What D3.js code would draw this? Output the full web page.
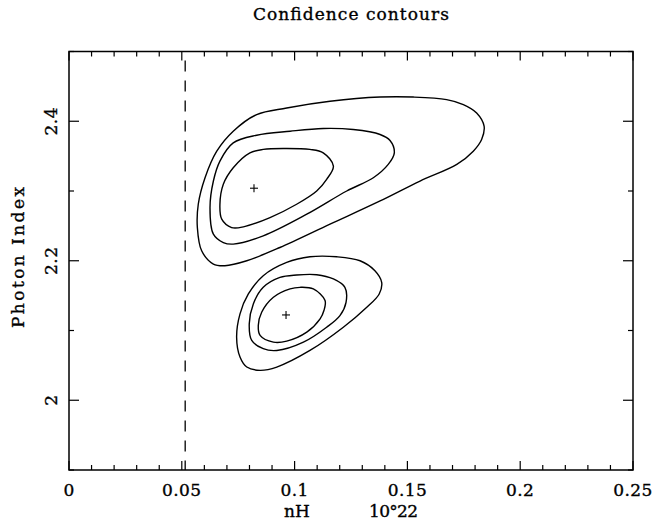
<!DOCTYPE html>
<html>
<head>
<meta charset="utf-8">
<script src="https://cdn.jsdelivr.net/npm/d3@7"></script>
<style>
  body { margin: 0; background: #fff; }
  svg text { font-family: "DejaVu Serif", serif; fill: #000; stroke: #000; stroke-width: 0.35px; }
</style>
</head>
<body>
<svg id="chart" width="654" height="523"></svg>
<script>
// axis ranges and ticks
const xDomain = [0, 0.25];
const yDomain = [1.9, 2.5];
const xTickLabels = [0, 0.05, 0.1, 0.15, 0.2, 0.25];
const yTickLabels = [2, 2.2, 2.4];
const nhLimit = 0.0515;

// best fit points
const bestFits = [[0.082, 2.304], [0.0962, 2.1223]];

// upper group of contours (nH, photon index)
const upperOuter = [[0.0832, 2.4096], [0.0728, 2.3857], [0.0655, 2.3571], [0.0603, 2.319], [0.0573, 2.281],
  [0.0569, 2.2476], [0.0588, 2.2143], [0.064, 2.1953], [0.0691, 2.1929], [0.0788, 2.2], [0.0935, 2.219],
  [0.1157, 2.2524], [0.1379, 2.2857], [0.1556, 2.3143], [0.1719, 2.3381], [0.1792, 2.3571], [0.1829, 2.3739],
  [0.184, 2.3929], [0.1807, 2.4119], [0.1748, 2.4239], [0.1674, 2.431], [0.1526, 2.4347], [0.1379, 2.4347],
  [0.1157, 2.4286], [0.0965, 2.419]];
const upperMiddle = [[0.0728, 2.369], [0.0669, 2.3429], [0.064, 2.3143], [0.0625, 2.2761], [0.064, 2.2381],
  [0.0684, 2.2261], [0.0728, 2.2239], [0.0861, 2.2357], [0.1054, 2.2667], [0.1231, 2.3], [0.1349, 2.319],
  [0.1415, 2.3381], [0.1442, 2.3547], [0.1423, 2.3724], [0.1379, 2.381], [0.126, 2.3881], [0.1127, 2.3896],
  [0.098, 2.3857], [0.0832, 2.38]];
const upperInner = [[0.0802, 2.3547], [0.0728, 2.3333], [0.0684, 2.3096], [0.0669, 2.281], [0.0677, 2.2596],
  [0.0721, 2.2476], [0.0773, 2.2486], [0.0891, 2.2619], [0.1009, 2.281], [0.1098, 2.3], [0.1142, 2.3167],
  [0.1172, 2.3357], [0.1127, 2.3547], [0.1068, 2.3596], [0.095, 2.361], [0.0861, 2.3596]];

// lower group of contours
const lowerOuter = [[0.0965, 2.1976], [0.0861, 2.1786], [0.0795, 2.1524], [0.0758, 2.1239], [0.0743, 2.0904],
  [0.0758, 2.0619], [0.0788, 2.0476], [0.0847, 2.0429], [0.0921, 2.0476], [0.1068, 2.0714], [0.1216, 2.1047],
  [0.132, 2.1333], [0.1375, 2.1524], [0.1386, 2.169], [0.1356, 2.1857], [0.129, 2.2], [0.1187, 2.2057],
  [0.1068, 2.2057]];
const lowerMiddle = [[0.0935, 2.1761], [0.0861, 2.1619], [0.0817, 2.1381], [0.0799, 2.1096], [0.081, 2.0857],
  [0.0861, 2.0739], [0.0921, 2.0714], [0.1039, 2.0833], [0.1142, 2.1047], [0.1201, 2.1214], [0.1228, 2.1404],
  [0.1223, 2.1619], [0.1172, 2.1739], [0.1098, 2.18], [0.1009, 2.1796]];
const lowerInner = [[0.098, 2.1596], [0.0906, 2.1476], [0.0854, 2.1261], [0.0839, 2.1071], [0.0847, 2.0929],
  [0.0906, 2.0833], [0.0965, 2.0847], [0.1054, 2.0976], [0.1113, 2.1167], [0.113, 2.1286], [0.1135, 2.1429],
  [0.1083, 2.1596], [0.1024, 2.1619]];

const contours = [upperOuter, upperMiddle, upperInner, lowerOuter, lowerMiddle, lowerInner];

const svg = d3.select("#chart");
const margin = { left: 69, top: 51.5, right: 21, bottom: 53 };
const width = 654 - margin.left - margin.right;
const height = 523 - margin.top - margin.bottom;

const x = d3.scaleLinear().domain(xDomain).range([0, width]);
const y = d3.scaleLinear().domain(yDomain).range([height, 0]);

const g = svg.append("g").attr("transform", `translate(${margin.left},${margin.top})`);

// frame
g.append("rect")
    .attr("width", width)
    .attr("height", height)
    .attr("fill", "none")
    .attr("stroke", "#000")
    .attr("stroke-width", 1.5);

// ticks on all four sides, pointing in
const xMinor = d3.range(0, 26).map(i => i / 100);
const yMinor = d3.range(19, 26).map(i => i / 10);
const isMajorX = v => Math.abs(v * 20 - Math.round(v * 20)) < 1e-6;
const isMajorY = v => Math.abs(v * 5 - Math.round(v * 5)) < 1e-6;

const tickG = g.append("g").attr("stroke", "#000").attr("stroke-width", 1.2);
xMinor.forEach(v => {
    const len = isMajorX(v) ? 9 : 5;
    tickG.append("line").attr("x1", x(v)).attr("x2", x(v)).attr("y1", height).attr("y2", height - len);
    tickG.append("line").attr("x1", x(v)).attr("x2", x(v)).attr("y1", 0).attr("y2", len);
});
yMinor.forEach(v => {
    const len = isMajorY(v) ? 10 : 5;
    tickG.append("line").attr("y1", y(v)).attr("y2", y(v)).attr("x1", 0).attr("x2", len);
    tickG.append("line").attr("y1", y(v)).attr("y2", y(v)).attr("x1", width).attr("x2", width - len);
});

// tick labels
g.selectAll(".xlab")
    .data(xTickLabels)
    .enter().append("text")
    .attr("class", "xlab")
    .attr("x", d => x(d))
    .attr("y", height + 26)
    .attr("text-anchor", "middle")
    .attr("font-size", 17)
    .attr("letter-spacing", 0.4)
    .text(d => d3.format("")(d));

g.selectAll(".ylab")
    .data(yTickLabels)
    .enter().append("text")
    .attr("class", "ylab")
    .attr("transform", d => `translate(${-12},${y(d)}) rotate(-90)`)
    .attr("text-anchor", "middle")
    .attr("font-size", 17)
    .attr("letter-spacing", 0.4)
    .text(d => d);

// titles
svg.append("text")
    .attr("x", 253)
    .attr("y", 20)
    .attr("font-size", 17)
    .attr("textLength", 196)
    .attr("lengthAdjust", "spacing")
    .text("Confidence contours");

svg.append("text")
    .attr("x", 297)
    .attr("y", 517)
    .attr("text-anchor", "middle")
    .attr("font-size", 17)
    .text("nH");

svg.append("text")
    .attr("x", 369)
    .attr("y", 517)
    .attr("font-size", 17)
    .attr("textLength", 49)
    .attr("lengthAdjust", "spacing")
    .text("10°22");

svg.append("text")
    .attr("transform", "translate(24,328) rotate(-90)")
    .attr("font-size", 17)
    .attr("textLength", 141)
    .attr("lengthAdjust", "spacing")
    .text("Photon Index");

// dashed nH limit
g.append("line")
    .attr("x1", x(nhLimit)).attr("x2", x(nhLimit))
    .attr("y1", y(yDomain[1])).attr("y2", y(yDomain[0]))
    .attr("stroke", "#000")
    .attr("stroke-width", 1.3)
    .attr("stroke-dasharray", "11,9")
    .attr("stroke-dashoffset", 11);

// contours
const line = d3.line()
    .x(d => x(d[0]))
    .y(d => y(d[1]))
    .curve(d3.curveCatmullRomClosed.alpha(0.5));

g.selectAll(".contour")
    .data(contours)
    .enter().append("path")
    .attr("class", "contour")
    .attr("d", line)
    .attr("fill", "none")
    .attr("stroke", "#000")
    .attr("stroke-width", 1.4);

// best fit crosses
const cross = g.selectAll(".fit")
    .data(bestFits)
    .enter().append("g")
    .attr("class", "fit")
    .attr("transform", d => `translate(${x(d[0])},${y(d[1])})`)
    .attr("stroke", "#000")
    .attr("stroke-width", 1.1);
cross.append("line").attr("x1", -4).attr("x2", 4);
cross.append("line").attr("y1", -4).attr("y2", 4);
</script>
</body>
</html>
